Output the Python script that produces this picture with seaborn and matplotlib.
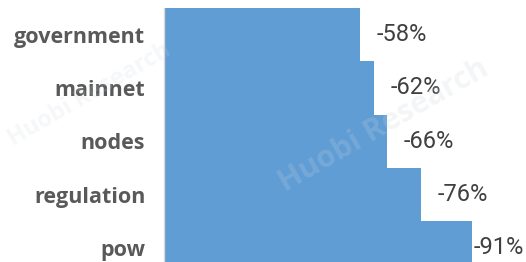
import matplotlib
matplotlib.use("Agg")
import matplotlib.pyplot as plt
import seaborn as sns
import pandas as pd

categories = ["government", "mainnet", "nodes", "regulation", "pow"]
values = [-58, -62, -66, -76, -91]
value_labels = ["-58%", "-62%", "-66%", "-76%", "-91%"]

sns.set_style("white")
plt.rcParams['font.family'] = ['Open Sans', 'DejaVu Sans']

df = pd.DataFrame({"category": categories, "value": values})

fig = plt.figure(figsize=(5.26, 2.62), dpi=100)
ax = fig.add_axes([164/526, 0, (522-164)/526, 254/262])

sns.barplot(data=df, x="value", y="category", orient="h", color="#5F9DD4",
            width=1.0, saturation=1, ax=ax, edgecolor="none", linewidth=0)

ax.set_xlim(0, -(522-164)/3.38)
ax.set_ylim((262-8)/53.3 - 0.5, -0.5)

for s in ["top", "right", "bottom"]:
    ax.spines[s].set_visible(False)
ax.spines["left"].set_color("#d9d9d9")
ax.spines["left"].set_linewidth(1.0)
ax.set_xticks([])
ax.set_xlabel("")
ax.set_ylabel("")
ax.tick_params(axis="y", length=0, pad=13.5)
for t in ax.get_yticklabels():
    t.set_fontsize(15.5)
    t.set_fontweight("bold")
    t.set_color("#595959")

fig.canvas.draw()
renderer = fig.canvas.get_renderer()
right_px = 524
for i, (v, lab) in enumerate(zip(values, value_labels)):
    txt = ax.annotate(lab, xy=(v, i), xytext=(12, 0), textcoords="offset points",
                      ha="left", va="center", fontsize=17, color="#404040",
                      family=['Roboto', 'DejaVu Sans'])
    bb = txt.get_window_extent(renderer)
    if bb.x1 > right_px:
        txt.set_position((12 - (bb.x1 - right_px) * 72 / 100, 0))

fig.text(0.73, 0.52, "Huobi Research", rotation=30, fontsize=22, color="#c8d3de",
         alpha=0.22, ha="center", va="center", fontweight="bold", zorder=10)
fig.text(0.17, 0.64, "Huobi Research", rotation=30, fontsize=17, color="#c8d3de",
         alpha=0.18, ha="center", va="center", fontweight="bold", zorder=10)

fig.savefig("out.png", dpi=100)
